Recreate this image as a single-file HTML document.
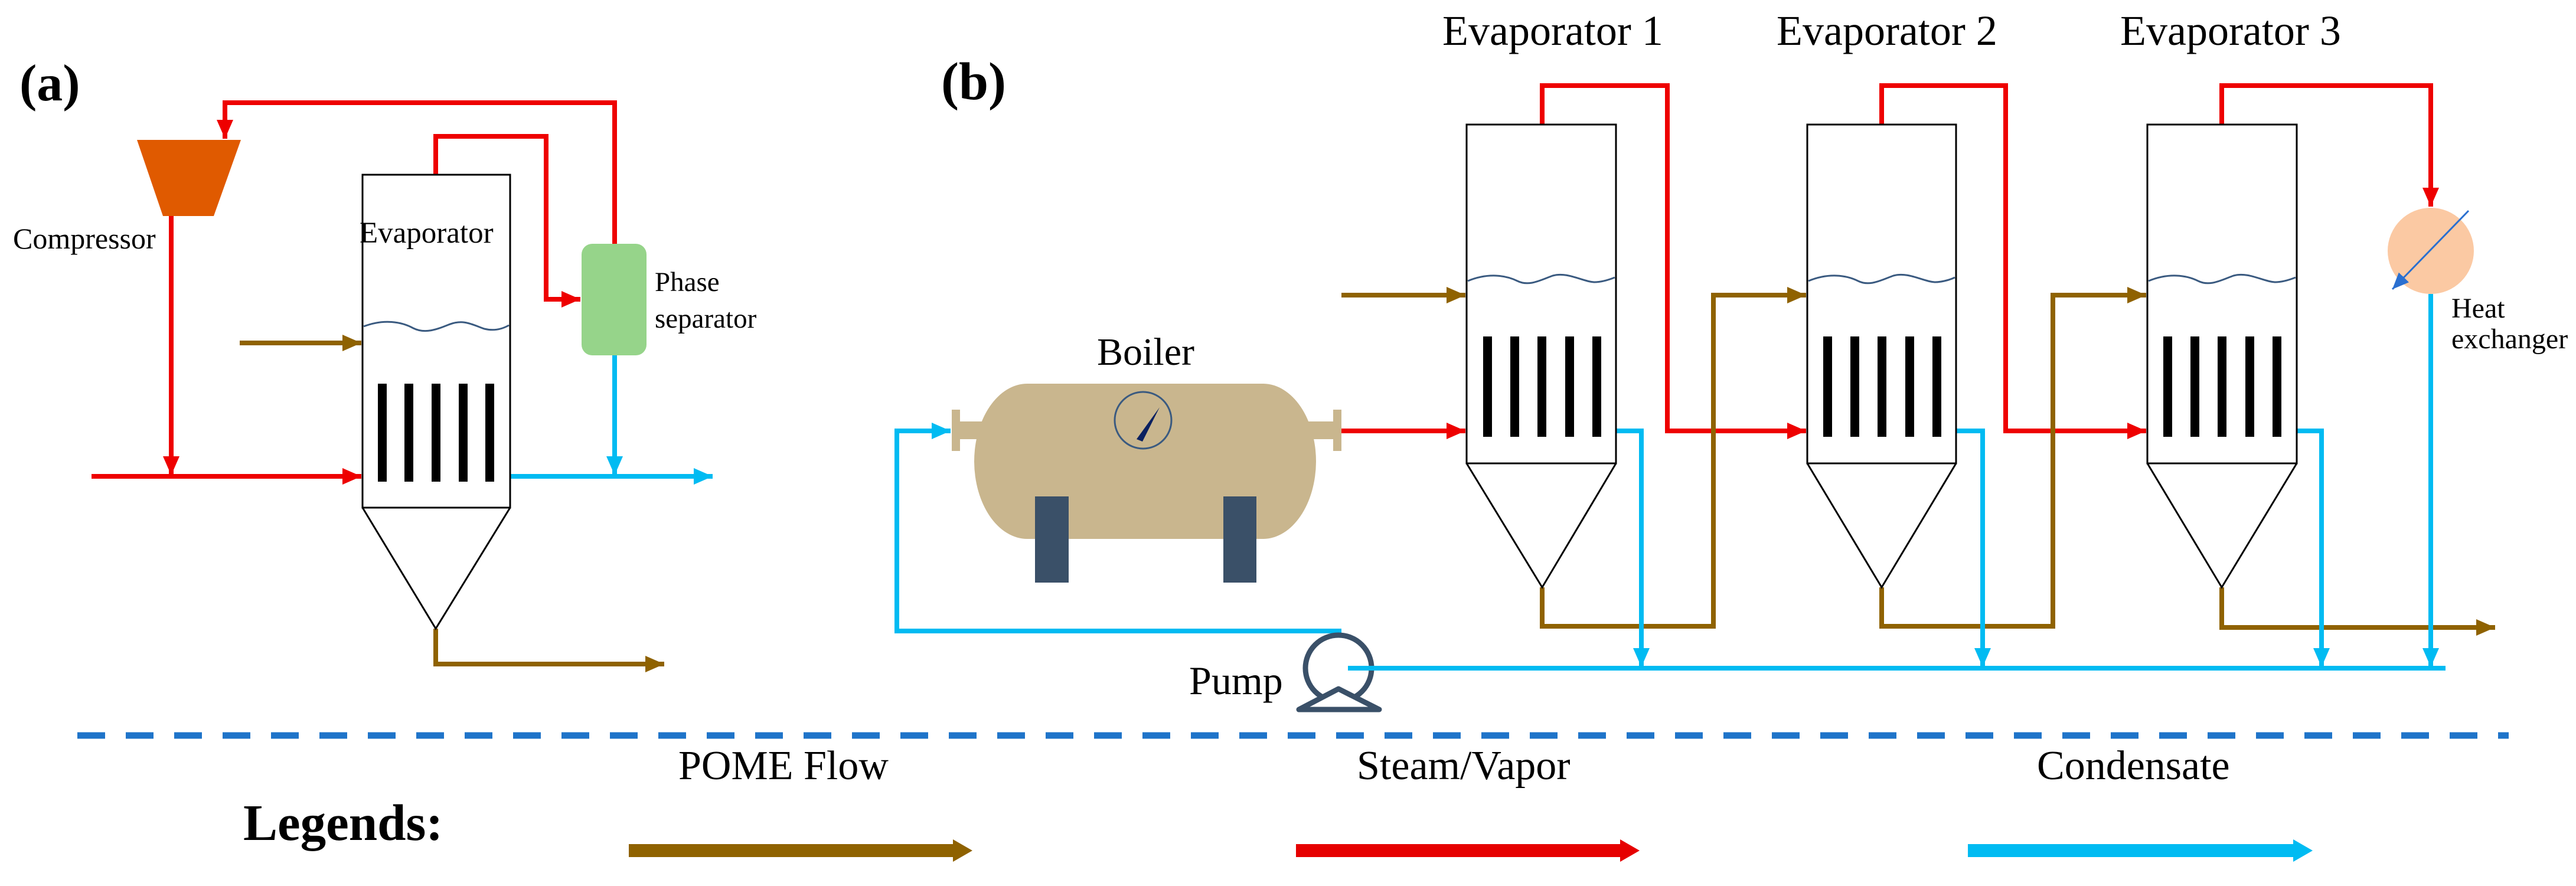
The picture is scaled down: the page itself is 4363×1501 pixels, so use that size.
<!DOCTYPE html>
<html><head><meta charset="utf-8"><style>
html,body{margin:0;padding:0;background:#fff;}
svg{display:block;}
text{font-family:"Liberation Serif","Times New Roman","Tinos","DejaVu Serif",serif;fill:#000;}
</style></head><body>
<svg width="4363" height="1501" viewBox="0 0 4363 1501" xmlns="http://www.w3.org/2000/svg">
<defs>
<marker id="ar" markerUnits="userSpaceOnUse" markerWidth="34" markerHeight="30" refX="32" refY="14" orient="auto"><path d="M0,0 L32,14 L0,28 z" fill="#ee0000"/></marker>
<marker id="ab" markerUnits="userSpaceOnUse" markerWidth="34" markerHeight="30" refX="32" refY="14" orient="auto"><path d="M0,0 L32,14 L0,28 z" fill="#8f6200"/></marker>
<marker id="ac" markerUnits="userSpaceOnUse" markerWidth="34" markerHeight="30" refX="32" refY="14" orient="auto"><path d="M0,0 L32,14 L0,28 z" fill="#00bbf2"/></marker>
<marker id="ah" markerUnits="userSpaceOnUse" markerWidth="30" markerHeight="26" refX="28" refY="12" orient="auto"><path d="M0,0 L28,12 L0,24 z" fill="#2a6fd0"/></marker>
</defs>
<g fill="none" stroke-width="8" stroke-linejoin="miter">
<polyline points="1041,413 1041,174 381,174 381,235" stroke="#ee0000" marker-end="url(#ar)"/>
<polyline points="738,296 738,231 925,231 925,507 983,507" stroke="#ee0000" marker-end="url(#ar)"/>
<polyline points="290,366 290,805" stroke="#ee0000" marker-end="url(#ar)"/>
<polyline points="155,807 612,807" stroke="#ee0000" marker-end="url(#ar)"/>
<polyline points="406,581 612,581" stroke="#8f6200" marker-end="url(#ab)"/>
<polyline points="864,807 1207,807" stroke="#00bbf2" marker-end="url(#ac)"/>
<polyline points="1041,602 1041,805" stroke="#00bbf2" marker-end="url(#ac)"/>
<polyline points="738,1065 738,1125 1125,1125" stroke="#8f6200" marker-end="url(#ab)"/>
<polyline points="2272,730 2482,730" stroke="#ee0000" marker-end="url(#ar)"/>
<polyline points="2612,211 2612,145 2824,145 2824,730 3059,730" stroke="#ee0000" marker-end="url(#ar)"/>
<polyline points="3187,211 3187,145 3397,145 3397,730 3635,730" stroke="#ee0000" marker-end="url(#ar)"/>
<polyline points="3763,211 3763,145 4117,145 4117,350" stroke="#ee0000" marker-end="url(#ar)"/>
<polyline points="2272,500 2482,500" stroke="#8f6200" marker-end="url(#ab)"/>
<polyline points="2612,995 2612,1061 2902,1061 2902,500 3059,500" stroke="#8f6200" marker-end="url(#ab)"/>
<polyline points="3187,995 3187,1061 3477,1061 3477,500 3635,500" stroke="#8f6200" marker-end="url(#ab)"/>
<polyline points="3763,995 3763,1063 4226,1063" stroke="#8f6200" marker-end="url(#ab)"/>
<polyline points="2272,1069 1519,1069 1519,730 1610,730" stroke="#00bbf2" marker-end="url(#ac)"/>
<polyline points="2283,1132 4142,1132" stroke="#00bbf2"/>
<polyline points="2737,730 2780,730 2780,1130" stroke="#00bbf2" marker-end="url(#ac)"/>
<polyline points="3313,730 3358,730 3358,1130" stroke="#00bbf2" marker-end="url(#ac)"/>
<polyline points="3890,730 3932,730 3932,1130" stroke="#00bbf2" marker-end="url(#ac)"/>
<polyline points="4117,498 4117,1130" stroke="#00bbf2" marker-end="url(#ac)"/>
</g>
<polygon points="232,237 408,237 362,366 276,366" fill="#e05a00"/>
<rect x="985" y="413" width="110" height="189" rx="18" fill="#96d48a"/>
<g fill="none" stroke="#000" stroke-width="3">
<rect x="614" y="296" width="250" height="564"/>
<polyline points="614,860 738,1065 864,860"/>
<rect x="2484" y="211" width="253" height="574"/>
<polyline points="2484,785 2612,995 2737,785"/>
<rect x="3061" y="211" width="252" height="574"/>
<polyline points="3061,785 3187,995 3313,785"/>
<rect x="3637" y="211" width="253" height="574"/>
<polyline points="3637,785 3763,995 3890,785"/>
</g>
<g fill="none" stroke="#3a5a80" stroke-width="3">
<path d="M616,553 C650,540 680,545 700,556 C720,566 740,558 760,550 C785,540 800,550 820,557 C840,562 855,555 862,551"/>
<path d="M2486,476 C2520,462 2550,466 2570,476 C2590,486 2610,474 2630,467 C2655,460 2680,477 2700,478 C2715,478 2730,472 2735,470"/>
<path d="M3063,476 C3097,462 3127,466 3147,476 C3167,486 3187,474 3207,467 C3232,460 3257,477 3277,478 C3292,478 3307,472 3311,470"/>
<path d="M3639,476 C3673,462 3703,466 3723,476 C3743,486 3763,474 3783,467 C3808,460 3833,477 3853,478 C3868,478 3883,472 3888,470"/>
</g>
<g fill="#000">
<rect x="640" y="650" width="15" height="166"/><rect x="685" y="650" width="15" height="166"/><rect x="731" y="650" width="15" height="166"/><rect x="777" y="650" width="15" height="166"/><rect x="822" y="650" width="15" height="166"/>
<rect x="2512" y="570" width="15" height="170"/><rect x="2558" y="570" width="15" height="170"/><rect x="2604" y="570" width="15" height="170"/><rect x="2651" y="570" width="15" height="170"/><rect x="2697" y="570" width="15" height="170"/>
<rect x="3088" y="570" width="15" height="170"/><rect x="3134" y="570" width="15" height="170"/><rect x="3180" y="570" width="15" height="170"/><rect x="3227" y="570" width="15" height="170"/><rect x="3273" y="570" width="15" height="170"/>
<rect x="3664" y="570" width="15" height="170"/><rect x="3710" y="570" width="15" height="170"/><rect x="3756" y="570" width="15" height="170"/><rect x="3803" y="570" width="15" height="170"/><rect x="3849" y="570" width="15" height="170"/>
</g>
<g fill="#c9b68e">
<rect x="1612" y="694" width="14" height="70"/>
<rect x="1626" y="714" width="40" height="30"/>
<rect x="2258" y="694" width="14" height="70"/>
<rect x="2215" y="714" width="43" height="30"/>
<path d="M1740,650 L2140,650 A90,132 0 0 1 2229,782 A90,132 0 0 1 2140,913 L1740,913 A90,132 0 0 1 1650,782 A90,132 0 0 1 1740,650 z"/>
</g>
<rect x="1753" y="841" width="57" height="146" fill="#3a5068"/>
<rect x="2072" y="841" width="56" height="146" fill="#3a5068"/>
<circle cx="1936" cy="712" r="48" fill="none" stroke="#3a5a80" stroke-width="3"/>
<polygon points="1925,744 1935,748 1964,690" fill="#0a2060"/>
<circle cx="2267" cy="1132" r="56" fill="#fff" stroke="#3a5068" stroke-width="9"/>
<polygon points="2200,1202 2336,1202 2267,1167" fill="#fff" stroke="#3a5068" stroke-width="9" stroke-linejoin="round"/>
<line x1="2283" y1="1132" x2="2330" y2="1132" stroke="#00bbf2" stroke-width="8"/>
<circle cx="4117" cy="425" r="73" fill="#fbc9a3"/>
<line x1="4181" y1="357" x2="4052" y2="490" stroke="#2a6fd0" stroke-width="3" marker-end="url(#ah)"/>
<line x1="131" y1="1246" x2="4249" y2="1246" stroke="#1f74c9" stroke-width="11" stroke-dasharray="47,35"/>
<g>
<rect x="1065" y="1430" width="552" height="22" fill="#8f6200"/>
<polygon points="1614,1422 1647,1441 1614,1460" fill="#8f6200"/>
<rect x="2195" y="1430" width="552" height="22" fill="#e60000"/>
<polygon points="2744,1422 2777,1441 2744,1460" fill="#e60000"/>
<rect x="3333" y="1430" width="554" height="22" fill="#00bbf2"/>
<polygon points="3884,1422 3917,1441 3884,1460" fill="#00bbf2"/>
</g>
<text x="33" y="170" font-size="88" font-weight="bold">(a)</text>
<text x="1594" y="168" font-size="90" font-weight="bold">(b)</text>
<text x="22" y="421" font-size="50">Compressor</text>
<text x="609" y="411" font-size="51">Evaporator</text>
<text x="1109" y="493" font-size="47">Phase</text>
<text x="1109" y="555" font-size="47">separator</text>
<text x="2443" y="76" font-size="72">Evaporator 1</text>
<text x="3009" y="76" font-size="72">Evaporator 2</text>
<text x="3591" y="76" font-size="72">Evaporator 3</text>
<text x="1858" y="618" font-size="66">Boiler</text>
<text x="2014" y="1176" font-size="68">Pump</text>
<text x="4152" y="538" font-size="48">Heat</text>
<text x="4152" y="590" font-size="48">exchanger</text>
<text x="412" y="1423" font-size="87" font-weight="bold">Legends:</text>
<text x="1149" y="1320" font-size="70">POME Flow</text>
<text x="2298" y="1320" font-size="70">Steam/Vapor</text>
<text x="3450" y="1320" font-size="70">Condensate</text>
</svg>
</body></html>
